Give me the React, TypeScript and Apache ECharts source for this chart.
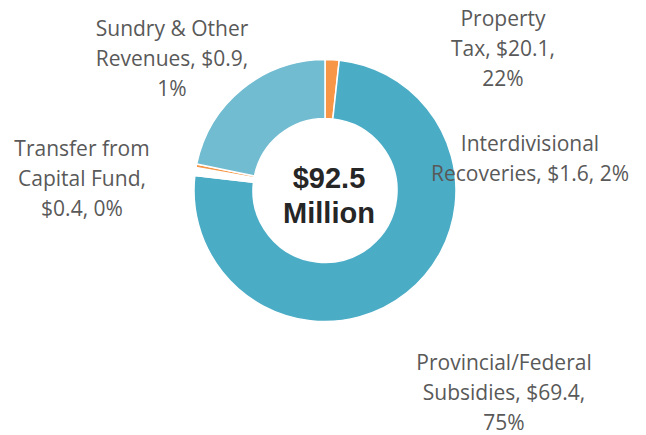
import React, { useEffect, useRef } from "react";
import * as echarts from "echarts";

const categories = [
  "Interdivisional Recoveries",
  "Provincial/Federal Subsidies",
  "Sundry & Other Revenues",
  "Transfer from Capital Fund",
  "Property Tax",
];
const values = [1.6, 69.4, 0.9, 0.4, 20.1];
const totalLabel = ["$92.5", "Million"];

const colors = ["#F79646", "#4BACC6", "#FFFFFF", "#F79646", "#72BCD1"];
const wrapChars = [21, 18, 16, 14, 11];
const labelPos: [number, number][] = [
  [530, 158],
  [504, 392],
  [172, 58],
  [82, 178],
  [503, 48],
];

function wrap(text: string, max: number): string {
  const words = text.split(" ");
  const lines: string[] = [];
  let cur = "";
  for (const w of words) {
    if (!cur) cur = w;
    else if ((cur + " " + w).length <= max) cur += " " + w;
    else {
      lines.push(cur);
      cur = w;
    }
  }
  if (cur) lines.push(cur);
  return lines.join("\n");
}

export default function App() {
  const ref = useRef<HTMLDivElement>(null);
  useEffect(() => {
    if (!ref.current) return;
    const chart = echarts.init(ref.current, undefined, { renderer: "svg" });
    const total = values.reduce((a, b) => a + b, 0);
    chart.setOption({
      animation: false,
      backgroundColor: "#FFFFFF",
      graphic: [
        {
          type: "text",
          x: 329,
          y: 195,
          style: {
            text: totalLabel.join("\n"),
            font: "bold 29px 'Liberation Sans', Arial, sans-serif",
            lineHeight: 35,
            fill: "#262626",
            align: "center",
            verticalAlign: "middle",
          },
          z: 10,
        },
      ],
      series: [
        {
          type: "pie",
          center: [325, 190.5],
          radius: [72, 131],
          startAngle: 90,
          clockwise: true,
          avoidLabelOverlap: false,
          itemStyle: { borderColor: "#FFFFFF", borderWidth: 1.5 },
          label: {
            show: true,
            color: "#595959",
            fontFamily: "'Open Sans', sans-serif",
            fontSize: 21,
            lineHeight: 30,
            align: "center",
            formatter: (p: any) => {
              const i = p.dataIndex;
              const pct = Math.round((values[i] / total) * 100);
              const txt = `${categories[i]}, $${values[i].toFixed(1)}, ${pct}%`;
              return wrap(txt, wrapChars[i]);
            },
          },
          labelLine: { show: false },
          labelLayout: (p: any) => {
            const [x, y] = labelPos[p.dataIndex];
            return { x, y, align: "center", verticalAlign: "middle", hideOverlap: false };
          },
          emphasis: { disabled: true },
          data: categories.map((name, i) => ({
            name,
            value: values[i],
            itemStyle: { color: colors[i] },
          })),
        },
      ],
    });
    return () => chart.dispose();
  }, []);
  return (
    <div
      ref={ref}
      style={{ position: "fixed", left: 0, top: 0, width: 646, height: 435 }}
    />
  );
}
